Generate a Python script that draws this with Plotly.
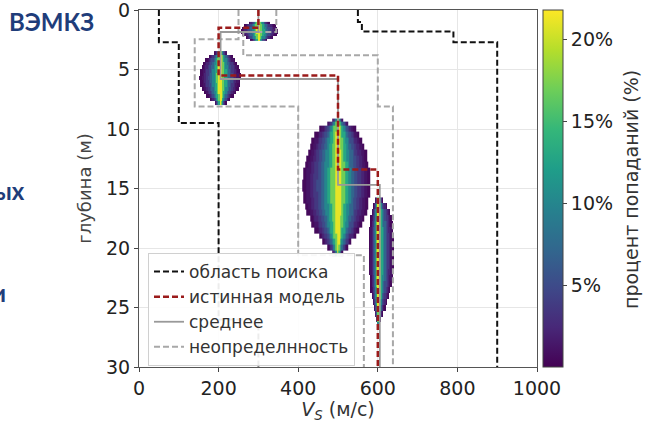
import numpy as np
import plotly.graph_objects as go

# ---------------- data ----------------
# step profiles: velocity of each layer (m/s) and the depth of its top (m)
SEARCH_LEFT_V = [50, 100, 200, 300]
SEARCH_LEFT_TOP = [0, 2.7, 9.5, 26.0]
SEARCH_RIGHT_V = [550, 560, 790, 900]
SEARCH_RIGHT_TOP = [0, 1.0, 1.8, 2.7]
TRUE_V = [300, 200, 500, 600]
TRUE_TOP = [0, 1.5, 5.5, 13.4]
MEAN_V = [300, 205, 500, 605]
MEAN_TOP = [0, 1.85, 5.8, 14.7]
UNC_LOW_V = [250, 140, 400, 565]
UNC_LOW_TOP = [0, 2.45, 8.1, 20.6]
UNC_HIGH_V = [345, 262, 600, 638]
UNC_HIGH_TOP = [0, 1.85, 3.8, 8.1]
MAX_DEPTH = 30

# hit-percentage profile across each cloud (centre band -> outer band), %
HIT_PROFILE = [21.0, 17.0, 13.0, 10.0, 7.0, 5.0, 3.5, 2.2, 1.2, 0.5]

# clouds of sampled models: centre velocity, row depths, left / right extents (m/s)
C1_CENTER = 300
C1_DEPTH = [1.1, 1.3, 1.5, 1.7, 1.9, 2.1, 2.3, 2.5]
C1_LEFT = [24, 36, 41, 43, 43, 40, 33, 20]
C1_RIGHT = [28, 41, 46, 48, 48, 45, 36, 22]

C2_CENTER = 205
C2_DEPTH = [3.6, 3.9, 4.2, 4.5, 4.8, 5.1, 5.4, 5.7, 6.0, 6.3, 6.6, 6.9, 7.2, 7.5, 7.8]
C2_LEFT = [16, 29, 37, 43, 47, 49, 51, 52, 51, 49, 46, 41, 34, 26, 15]
C2_RIGHT = [16, 29, 36, 42, 46, 48, 50, 50, 49, 47, 44, 39, 32, 24, 14]

C3_CENTER = 500
C3_DEPTH = [9.25, 9.5, 10.0, 10.5, 11.0, 11.5, 12.0, 12.5, 13.0, 13.5, 14.0, 14.5, 15.0,
            15.5, 16.0, 16.5, 17.0, 17.5, 18.0, 18.5, 19.0, 19.5, 20.0, 20.5]
C3_LEFT = [14, 28, 46, 57, 65, 71, 76, 80, 83, 86, 88, 89, 89, 88, 86, 83, 78, 72, 65, 57, 48, 38, 26, 14]
C3_RIGHT = [13, 26, 43, 53, 60, 66, 71, 74, 77, 79, 80, 81, 81, 80, 78, 75, 71, 66, 60, 52, 44, 34, 23, 12]

C4_CENTER = 602
C4_DEPTH = [16.0, 16.5, 17.0, 17.5, 18.0, 18.5, 19.0, 19.5, 20.0, 20.5, 21.0,
            21.5, 22.0, 22.5, 23.0, 23.5, 24.0, 24.5, 25.0, 25.5, 26.0, 26.5]
C4_LEFT = [8, 14, 18, 20, 21, 22, 22, 22, 22, 22, 22, 22, 22, 21, 21, 20, 18, 15, 12, 9, 6, 3]
C4_RIGHT = [12, 22, 29, 33, 35, 37, 38, 38, 38, 38, 38, 38, 37, 36, 34, 31, 27, 22, 17, 11, 6, 3]

X_TICKS = [0, 200, 400, 600, 800, 1000]
Y_TICKS = [0, 5, 10, 15, 20, 25, 30]
CB_TICKS = [5, 10, 15, 20]
CB_TICKTEXT = ["5%", "10%", "15%", "20%"]
CB_MAX = 21.8

LEGEND_NAMES = ["область поиска", "истинная модель", "среднее", "неопределнность"]
CB_TITLE = "процент попаданий (%)"

FONT = "DejaVu Sans"

# ---------------- figure ----------------
fig = go.Figure()


def cloud(center, depths, left, right, dv):
    xs = np.arange(center - max(left) - dv, center + max(right) + 2 * dv, dv)
    nb = len(HIT_PROFILE)
    z = []
    for l, r in zip(left, right):
        row = []
        for x in xs:
            off = x - center
            if off < 0 and -off <= l:
                u = -off / l
            elif off >= 0 and off <= r:
                u = off / r
            else:
                row.append(None)
                continue
            row.append(HIT_PROFILE[min(int(u * nb), nb - 1)])
        z.append(row)
    return go.Heatmap(x=xs, y=depths, z=z, coloraxis="coloraxis",
                      hoverinfo="skip", showlegend=False, zsmooth=False)


fig.add_trace(cloud(C1_CENTER, C1_DEPTH, C1_LEFT, C1_RIGHT, 3))
fig.add_trace(cloud(C2_CENTER, C2_DEPTH, C2_LEFT, C2_RIGHT, 3))
fig.add_trace(cloud(C3_CENTER, C3_DEPTH, C3_LEFT, C3_RIGHT, 4))
fig.add_trace(cloud(C4_CENTER, C4_DEPTH, C4_LEFT, C4_RIGHT, 3))


def step(vels, tops, name, color, width, dash, show, group):
    fig.add_trace(go.Scatter(
        x=list(vels) + [vels[-1]], y=list(tops) + [MAX_DEPTH],
        mode="lines", line=dict(shape="vh", color=color, width=width, dash=dash),
        name=name, showlegend=show, legendgroup=group, hoverinfo="skip"))


step(SEARCH_LEFT_V, SEARCH_LEFT_TOP, LEGEND_NAMES[0], "#111111", 2, "6px,3px", True, "s")
step(SEARCH_RIGHT_V, SEARCH_RIGHT_TOP, LEGEND_NAMES[0], "#111111", 2, "6px,3px", False, "s")
step(UNC_LOW_V, UNC_LOW_TOP, LEGEND_NAMES[3], "#a8a8a8", 2, "6px,3px", False, "u")
step(UNC_HIGH_V, UNC_HIGH_TOP, LEGEND_NAMES[3], "#a8a8a8", 2, "6px,3px", False, "u")
step(MEAN_V, MEAN_TOP, LEGEND_NAMES[2], "#999999", 1.8, "solid", False, "m")
step(TRUE_V, TRUE_TOP, LEGEND_NAMES[1], "#9b1b1b", 2.5, "6px,3px", True, "t")
# legend-only entries in the reference order
fig.add_trace(go.Scatter(x=[None], y=[None], mode="lines", name=LEGEND_NAMES[2],
                         line=dict(color="#999999", width=1.8), legendgroup="m"))
fig.add_trace(go.Scatter(x=[None], y=[None], mode="lines", name=LEGEND_NAMES[3],
                         line=dict(color="#a8a8a8", width=2, dash="6px,3px"), legendgroup="u"))

axis_common = dict(
    showline=True, linecolor="#555555", linewidth=1, mirror=True,
    showgrid=True, gridcolor="#e6e6e6", gridwidth=1,
    ticks="outside", ticklen=4, tickcolor="#444444", zeroline=False,
    automargin=False, ticklabeloverflow="allow",
    tickfont=dict(family=FONT, size=19, color="#222222"),
)

fig.update_layout(
    width=649, height=423,
    margin=dict(l=139, r=112, t=10, b=56),
    paper_bgcolor="white", plot_bgcolor="white",
    font=dict(family=FONT, color="#222222"),
    xaxis=dict(range=[0, 1000], tickvals=X_TICKS,
               title=dict(text="<i>V</i><sub><i>S</i></sub> (м/с)",
                          font=dict(family=FONT, size=19, color="#333333"), standoff=0),
               **axis_common),
    yaxis=dict(range=[MAX_DEPTH, 0], tickvals=Y_TICKS,
               title=dict(text="глубина (м)",
                          font=dict(family=FONT, size=18, color="#444444"), standoff=9),
               **axis_common),
    coloraxis=dict(
        colorscale="Viridis", cmin=0, cmax=CB_MAX,
        colorbar=dict(
            x=(543 - 139) / 398, xanchor="left", y=0.5, yanchor="middle",
            len=1, lenmode="fraction", xpad=0, ypad=0,
            thickness=20, outlinecolor="#444444", outlinewidth=1,
            tickvals=CB_TICKS, ticktext=CB_TICKTEXT, ticks="outside", ticklen=4,
            tickfont=dict(family=FONT, size=19, color="#222222"),
        ),
    ),
    legend=dict(
        x=(148 - 139) / 398, y=(367 - 253) / 357, xanchor="left", yanchor="top",
        bgcolor="rgba(255,255,255,0.92)", bordercolor="#d0d0d0", borderwidth=1,
        font=dict(family=FONT, size=17, color="#333333"),
        tracegroupgap=0, itemwidth=30,
    ),
)

# colour-bar title, rotated, placed beside the tick labels
fig.add_annotation(text=CB_TITLE, textangle=-90, xref="paper", yref="paper",
                   x=(631 - 139) / 398, y=(367 - 190) / 357, xanchor="center", yanchor="middle",
                   showarrow=False, font=dict(family=FONT, size=19, color="#333333"))

# fragments of slide text around the chart
SLIDE_COLOR = "#1f3d7a"
fig.add_annotation(text="<b>ВЭМКЗ</b>", xref="paper", yref="paper",
                   x=(7 - 139) / 398, y=(367 - 22) / 357, xanchor="left", yanchor="middle",
                   showarrow=False, font=dict(family="Lato", size=24, color=SLIDE_COLOR))
fig.add_annotation(text="<b>ых</b>", xref="paper", yref="paper",
                   x=(27 - 139) / 398, y=(367 - 190) / 357, xanchor="right", yanchor="middle",
                   showarrow=False, font=dict(family="Lato", size=24, color=SLIDE_COLOR))
fig.add_annotation(text="<b>и</b>", xref="paper", yref="paper",
                   x=(8 - 139) / 398, y=(367 - 292) / 357, xanchor="right", yanchor="middle",
                   showarrow=False, font=dict(family="Lato", size=24, color=SLIDE_COLOR))

fig.write_html("out.html", config={"displayModeBar": False},
               post_script="document.body.style.margin='0';")
